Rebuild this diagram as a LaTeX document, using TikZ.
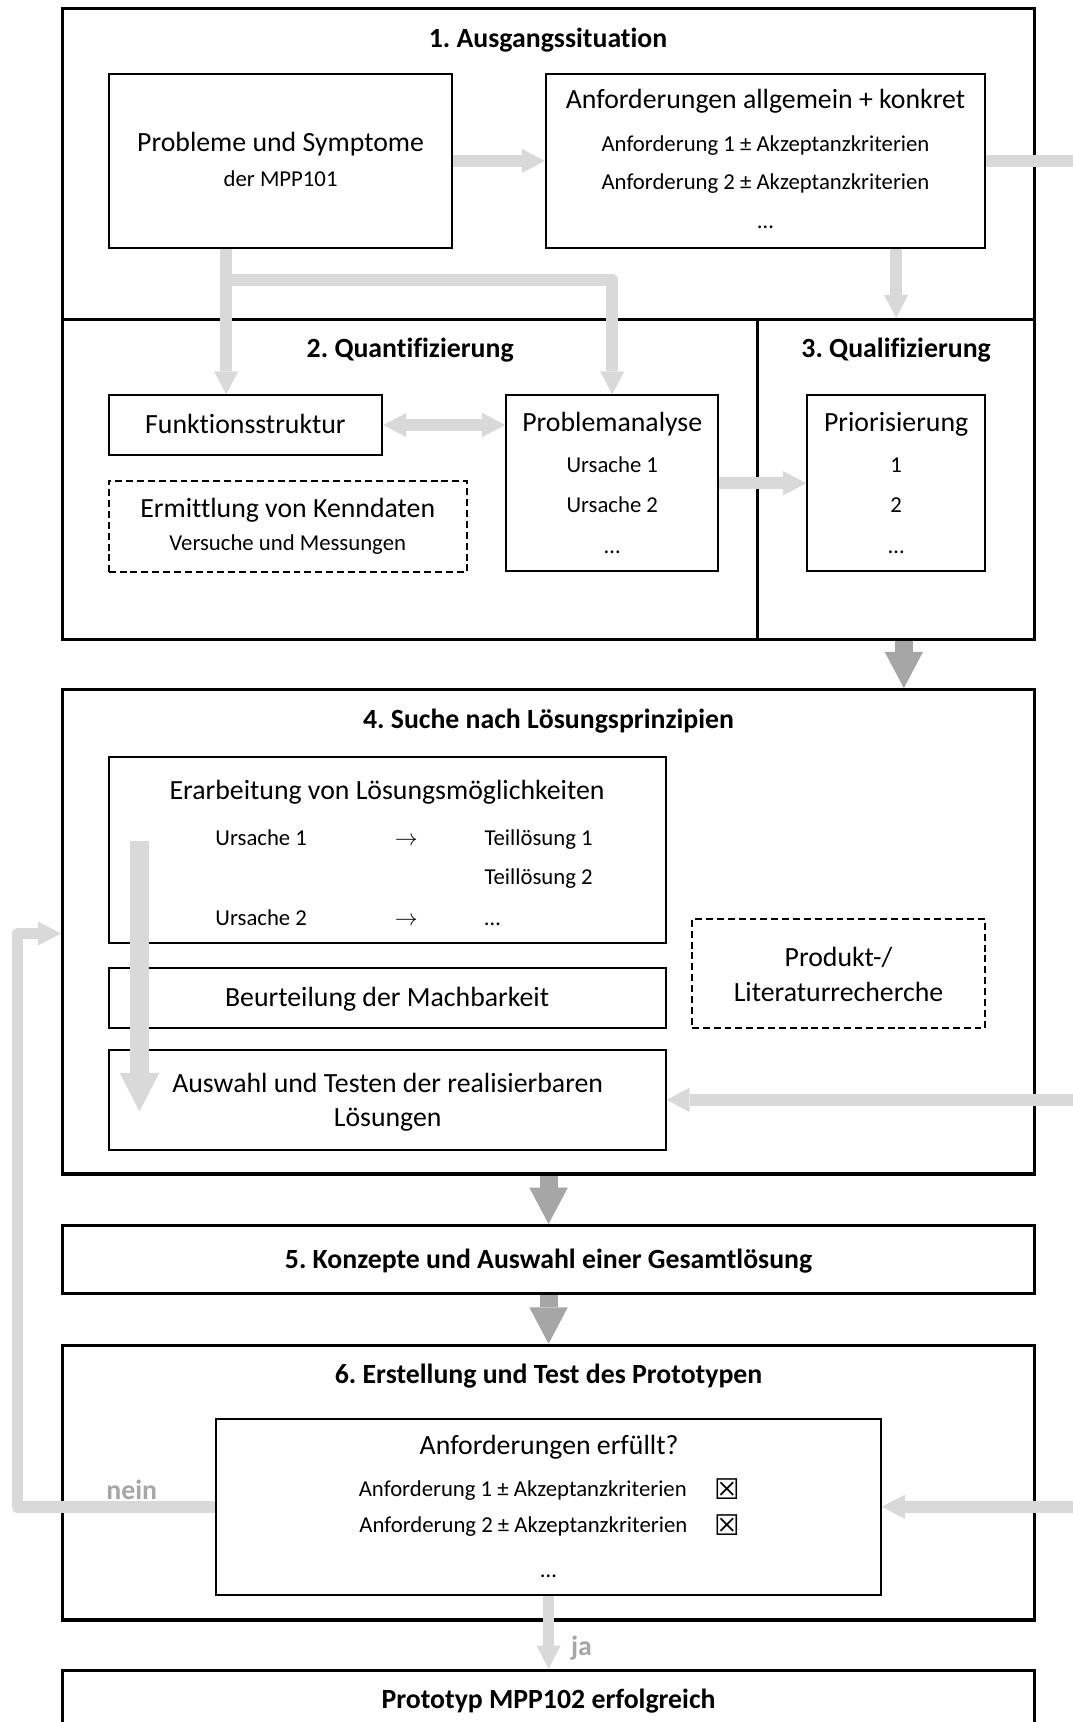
\documentclass[tikz,border=0pt]{standalone}
\usepackage{fontspec}
\setmainfont{Carlito}[Ligatures=NoCommon]
\newfontfamily\symfont{DejaVu Sans}
\usetikzlibrary{positioning, arrows.meta, calc}
\frenchspacing

\definecolor{lightflow}{HTML}{D9D9D9}
\definecolor{darkflow}{HTML}{A6A6A6}

\newcommand{\bigsize}{\fontsize{25.3}{30}\selectfont}
\newcommand{\smallsize}{\fontsize{20.7}{25}\selectfont}
\newcommand{\chksize}{\symfont\fontsize{26}{30}\selectfont}

\begin{document}
\begin{tikzpicture}[x=1pt, y=-1pt, node distance=36pt, on grid,
  phase/.style={draw, line width=3pt, inner sep=0pt},
  inbox/.style={draw, line width=1.8pt, fill=white, inner sep=0pt},
  dashbox/.style={inbox, dash pattern=on 6.3pt off 3.6pt},
  ttl/.style={inner sep=0pt, text height=16.3pt, text depth=0pt, font=\bigsize\bfseries},
  big/.style={inner sep=0pt, text height=16.3pt, text depth=0pt, font=\bigsize},
  sm/.style={inner sep=0pt, text height=13.3pt, text depth=0pt, font=\smallsize},
  chk/.style={inner sep=0pt, font=\chksize},
  lgline/.style={draw=lightflow, line width=10.5pt},
  lgflow/.style={lgline, arrows={-Triangle[width=22pt, length=21pt, line width=0pt]}},
  lgboth/.style={lgline, arrows={Triangle[width=22pt, length=21pt, line width=0pt]-Triangle[width=22pt, length=21pt, line width=0pt]}},
  lgbig/.style={draw=lightflow, line width=17.5pt, arrows={-Triangle[width=36pt, length=35pt, line width=0pt]}},
  dgflow/.style={draw=darkflow, line width=16.5pt, arrows={-Triangle[width=35pt, length=33pt, line width=0pt]}}]

  \useasboundingbox (0,0) rectangle (977,1568);
  \clip (0,0) rectangle (977,1568);
  \fill[white] (0,0) rectangle (977,1568);

  % phases
  \node[phase, minimum width=885pt, minimum height=283pt] (ausg) at (499.5,149.5) {};
  \node[phase, minimum width=633pt, minimum height=291pt] (quant) at (373.5,436.5) {};
  \node[phase, minimum width=252pt, minimum height=291pt] (qual) at (816,436.5) {};
  \node[phase, minimum width=885pt, minimum height=441pt] (suche) at (499.5,848.5) {};
  \node[phase, minimum width=885pt, minimum height=62pt, text height=16.3pt, text depth=0pt,
        font=\bigsize\bfseries] (konz) at (499.5,1147) {5. Konzepte und Auswahl einer Gesamtlösung};
  \node[phase, minimum width=885pt, minimum height=250pt] (erst) at (499.5,1350) {};
  \node[phase, minimum width=885pt, minimum height=69pt] (proto) at (499.5,1555.5) {};

  % 1. Ausgangssituation
  \node[ttl] (t1) at (499,35) {1. Ausgangssituation};
  \node[inbox, minimum width=313pt, minimum height=159pt] (prob) at (255.5,146.5) {};
  \node[big] (prob1) at (255.5,130) {Probleme und Symptome};
  \node[sm, below=33pt of prob1] (prob2) {der MPP101};
  \node[inbox, minimum width=400pt, minimum height=159pt] (anf) at (697,146.5) {};
  \node[big] (anf0) at (697,91) {Anforderungen allgemein + konkret};
  \node[sm, below=40pt of anf0] (anf1) {Anforderung 1 ± Akzeptanzkriterien};
  \node[sm, below=35pt of anf1] (anf2) {Anforderung 2 ± Akzeptanzkriterien};
  \node[sm, below=35pt of anf2] (anf3) {…};

  % 2. Quantifizierung
  \node[ttl] (t2) at (373.5,317.5) {2. Quantifizierung};
  \node[inbox, minimum width=249pt, minimum height=54pt, text height=16.3pt, text depth=0pt,
        font=\bigsize] (funk) at (223.5,387) {Funktionsstruktur};
  \node[dashbox, minimum width=326pt, minimum height=83pt] (kenn) at (262,479.5) {};
  \node[big] (kenn1) at (262,463) {Ermittlung von Kenndaten};
  \node[sm, below=32pt of kenn1] (kenn2) {Versuche und Messungen};
  \node[inbox, minimum width=193pt, minimum height=160pt] (pa) at (557.5,440) {};
  \node[big] (pa0) at (557.5,385) {Problemanalyse};
  \node[sm, below=39pt of pa0] (pa1) {Ursache 1};
  \node[sm, below=36pt of pa1] (pa2) {Ursache 2};
  \node[sm, below=37pt of pa2] (pa3) {…};

  % 3. Qualifizierung
  \node[ttl] (t3) at (816,317.5) {3. Qualifizierung};
  \node[inbox, minimum width=162pt, minimum height=160pt] (prio) at (816,440) {};
  \node[big] (prio0) at (816,385) {Priorisierung};
  \node[sm, below=39pt of prio0] (prio1) {1};
  \node[sm, below=36pt of prio1] (prio2) {2};
  \node[sm, below=37pt of prio2] (prio3) {…};

  % 4. Suche nach Loesungsprinzipien
  \node[ttl] (t4) at (499.5,655) {4. Suche nach Lösungsprinzipien};
  \node[inbox, minimum width=507pt, minimum height=170pt] (erar) at (352.5,774) {};
  \node[big] (erar0) at (352.5,720) {Erarbeitung von Lösungsmöglichkeiten};
  \node[sm, anchor=west] (u1) at (196,763) {Ursache 1};
  \node[sm] (to1) at (370,763) {$\rightarrow$};
  \node[sm, anchor=west] (tl1) at (441,763) {Teillösung 1};
  \node[sm, anchor=west] (tl2) at (441,799) {Teillösung 2};
  \node[sm, anchor=west] (u2) at (196,836.5) {Ursache 2};
  \node[sm] (to2) at (370,836.5) {$\rightarrow$};
  \node[sm, anchor=west] (tl3) at (441,836.5) {…};
  \node[inbox, minimum width=507pt, minimum height=55pt, text height=16.3pt, text depth=0pt,
        font=\bigsize] (beur) at (352.5,908.5) {Beurteilung der Machbarkeit};
  \node[inbox, minimum width=507pt, minimum height=91pt] (ausw) at (352.5,1001.5) {};
  \node[big] (ausw1) at (353,987) {Auswahl und Testen der realisierbaren};
  \node[big, below=31pt of ausw1] (ausw2) {Lösungen};
  \node[dashbox, minimum width=267pt, minimum height=99pt] (prod) at (763.5,886.5) {};
  \node[big] (prod1) at (763.5,872) {Produkt-/};
  \node[big, below=31.5pt of prod1] (prod2) {Literaturrecherche};

  % 6. Erstellung und Test
  \node[ttl] (t6) at (499.5,1252) {6. Erstellung und Test des Prototypen};
  \node[inbox, minimum width=605pt, minimum height=160pt] (erf) at (499.5,1372) {};
  \node[big] (erf0) at (500,1316) {Anforderungen erfüllt?};
  \node[sm] (erf1) at (476,1356) {Anforderung 1 ± Akzeptanzkriterien};
  \node[chk] (chk1) at (662.5,1355.5) {☒};
  \node[sm] (erf2) at (476.5,1389) {Anforderung 2 ± Akzeptanzkriterien};
  \node[chk] (chk2) at (662.5,1388.5) {☒};
  \node[sm] (erf3) at (499.5,1430) {…};
  \node[ttl, text=darkflow] (nein) at (120,1357.5) {nein};
  \node[ttl, text=darkflow] (ja) at (529.5,1499) {ja};
  \node[ttl] (t7) at (499.5,1547.6) {Prototyp MPP102 erfolgreich};

  % free ends
  \coordinate (edgeA) at (977,146.5);
  \coordinate (edgeB) at (977,1001.5);
  \coordinate (edgeC) at (977,1372);
  \coordinate (split) at (206,255);
  \coordinate (selTop) at (127,766);
  \coordinate (selEnd) at (127,1012);
  \coordinate (loopB) at (16,1372);
  \coordinate (loopT) at (16,850);

  % flows
  \draw[lgflow] (prob) -- (anf);
  \draw[lgline] (anf) -- (edgeA);
  \draw[lgflow] (prob.south -| split) -- (funk.north -| split);
  \draw[lgflow, line join=round] (split) -- (split -| pa) -- (pa.north);
  \draw[lgflow] (anf.south -| qual.north) -- (qual.north);
  \draw[lgboth] (funk.east) -- (funk.east -| pa.west);
  \draw[lgflow] (pa) -- (prio);
  \draw[dgflow] ([xshift=7pt]qual.south) -- ([xshift=7pt]qual.south |- suche.north);
  \draw[lgbig] (selTop) -- (selEnd);
  \draw[lgflow] (edgeB) -- (ausw);
  \draw[dgflow] (suche) -- (konz);
  \draw[dgflow] (konz) -- (erst);
  \draw[lgflow] (edgeC) -- (erf);
  \draw[lgflow, line join=round] (erf.west) -- (loopB) -- (loopT) -- (loopT -| suche.west);
  \draw[lgflow] (erf) -- (proto);
\end{tikzpicture}
\end{document}
